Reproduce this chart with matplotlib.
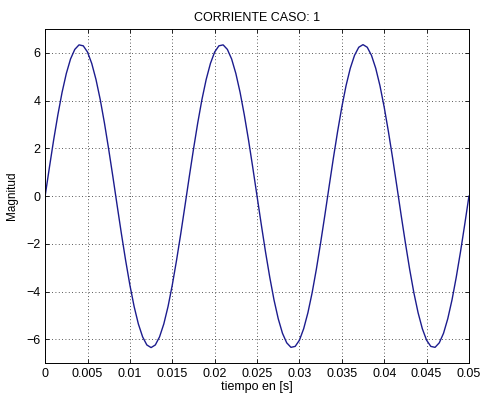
import numpy as np
import matplotlib
matplotlib.use('Agg')
import matplotlib.pyplot as plt

# Corriente (muestras cada 0.0005 s)
paso = 0.0005
corriente = [
    0.00, 1.19, 2.34, 3.40, 4.35, 5.14, 5.75, 6.15, 6.34, 6.30,
    6.04, 5.56, 4.89, 4.05, 3.06, 1.96, 0.80, -0.40, -1.58, -2.70,
    -3.73, -4.63, -5.36, -5.90, -6.24, -6.35, -6.24, -5.90, -5.36, -4.63,
    -3.73, -2.70, -1.58, -0.40, 0.80, 1.96, 3.06, 4.05, 4.89, 5.56,
    6.04, 6.30, 6.34, 6.15, 5.75, 5.14, 4.35, 3.40, 2.34, 1.19,
    0.00, -1.19, -2.34, -3.40, -4.35, -5.14, -5.75, -6.15, -6.34, -6.30,
    -6.04, -5.56, -4.89, -4.05, -3.06, -1.96, -0.80, 0.40, 1.58, 2.70,
    3.73, 4.63, 5.36, 5.90, 6.24, 6.35, 6.24, 5.90, 5.36, 4.63,
    3.73, 2.70, 1.58, 0.40, -0.80, -1.96, -3.06, -4.05, -4.89, -5.56,
    -6.04, -6.30, -6.34, -6.15, -5.75, -5.14, -4.35, -3.40, -2.34, -1.19,
    0.00,
]
xticks = [0, 0.005, 0.01, 0.015, 0.02, 0.025, 0.03, 0.035, 0.04, 0.045, 0.05]
xlabels = ['0', '0.005', '0.01', '0.015', '0.02', '0.025', '0.03', '0.035', '0.04', '0.045', '0.05']
yticks = [-6, -4, -2, 0, 2, 4, 6]

t = np.arange(len(corriente)) * paso

plt.rcParams['font.family'] = ['Liberation Sans', 'DejaVu Sans']

fig = plt.figure(figsize=(4.8, 3.99), dpi=100)
ax = fig.add_axes([0.094, 0.090, 0.883, 0.837])

ax.plot(t, corriente, color='#1c1c8e', linewidth=1.0)

ax.set_xlim(0, 0.05)
ax.set_ylim(-7, 7)
ax.set_xticks(xticks)
ax.set_xticklabels(xlabels)
ax.set_yticks(yticks)
ax.grid(True, color='#222222', linestyle=(0, (1, 3)), linewidth=0.6)
ax.tick_params(direction='in', top=True, right=True, labelsize=9, length=3, width=0.6)
for s in ax.spines.values():
    s.set_linewidth(0.7)

ax.set_title('CORRIENTE CASO: 1', fontsize=9, pad=6)
ax.set_xlabel('tiempo en [s]', fontsize=9, labelpad=1)
ax.set_ylabel('Magnitud', fontsize=8.5, labelpad=6)

fig.savefig('out.png', dpi=100)
